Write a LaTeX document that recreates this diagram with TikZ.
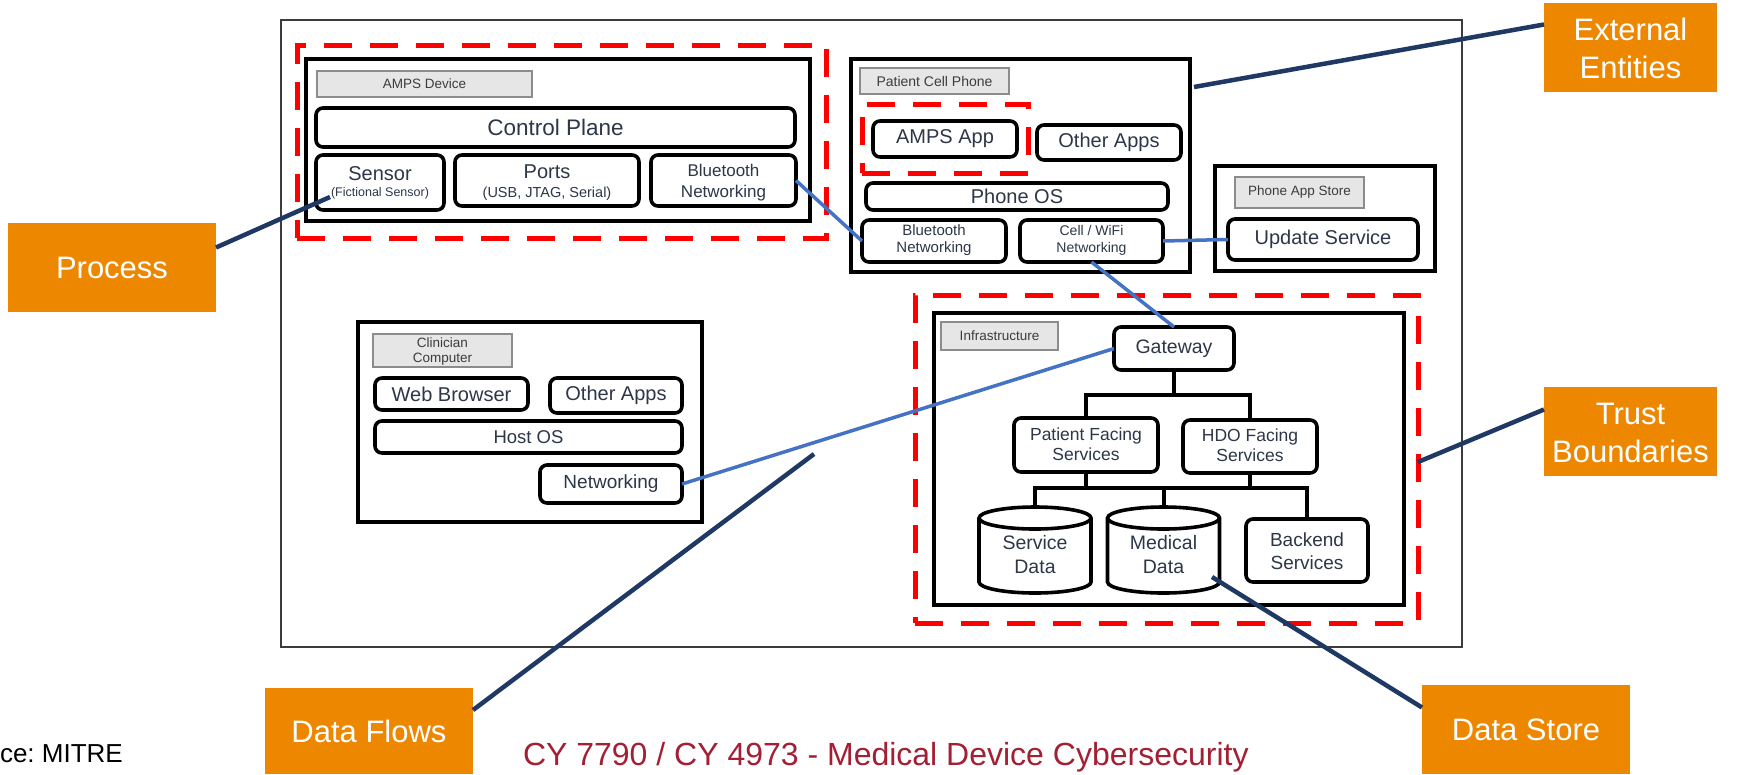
\documentclass[tikz,border=0pt]{standalone}
\usepackage{fontspec}
\setmainfont{Liberation Sans}
\frenchspacing

\definecolor{tbred}{RGB}{255,0,0}
\definecolor{flowblue}{RGB}{68,114,196}
\definecolor{leadnavy}{RGB}{31,56,100}
\definecolor{calloutorange}{RGB}{237,135,0}
\definecolor{comptext}{RGB}{45,55,72}
\definecolor{tagfill}{RGB}{230,230,230}
\definecolor{tagline}{RGB}{140,140,140}
\definecolor{tagtext}{RGB}{60,60,60}
\definecolor{titlered}{RGB}{163,31,52}
\definecolor{framegray}{RGB}{60,60,60}

\newcommand\fsz[2]{\fontsize{#1}{#2}\selectfont}
\newcommand\twoline[2]{\begin{tabular}{@{}c@{}}#1\\#2\end{tabular}}
% lower a text block without changing the size the node sees
\newcommand\drop[2]{\raisebox{-#1}[\height][\depth]{#2}}
% database drum drawn around a named node (radius = half the node width)
\newcommand\drum[1]{\draw[cylline] ([yshift=-11pt]#1.north west) -- ([yshift=11pt]#1.south west)
  arc[start angle=180,end angle=360,x radius=56pt,y radius=11pt]
  -- ([yshift=-11pt]#1.north east)
  arc[start angle=0,end angle=180,x radius=56pt,y radius=11pt]
  arc[start angle=180,end angle=360,x radius=56pt,y radius=11pt];}

\begin{document}
\begin{tikzpicture}[x=1pt,y=-1pt,
  every node/.style={inner sep=0pt, outer sep=0pt},
  frame/.style={draw=framegray, line width=1.6pt},
  container/.style={draw=black, line width=3.8pt},
  tag/.style={draw=tagline, fill=tagfill, line width=1.3pt, text=tagtext},
  comp/.style={draw=black, line width=3.6pt, rounded corners=7pt, text=comptext},
  cylline/.style={draw=black, line width=3.6pt},
  trustline/.style={draw=tbred, line width=5pt, dash pattern=on 28pt off 18pt},
  flow/.style={draw=flowblue, line width=3.5pt},
  callout/.style={fill=calloutorange, text=white, font=\fsz{31}{38}},
  leader/.style={draw=leadnavy, line width=4.5pt},
  tree/.style={draw=black, line width=4pt},
]
\useasboundingbox (0,0) rectangle (1748,774);
\fill[white] (0,0) rectangle (1748,774);

% outer frame of the system
\node[frame, minimum width=1181, minimum height=627] (frame) at (871.5,333.5) {};

% ---- AMPS device ----
\node[trustline, minimum width=529, minimum height=193] (ampsTB) at (561.5,141.5) {};
\node[container, minimum width=504, minimum height=162] (amps) at (558,140) {};
\node[tag, minimum width=215, minimum height=26, font=\fsz{13.5}{16}] (ampsTag) at (424.5,84) {AMPS Device};
\node[comp, minimum width=479, minimum height=39, font=\fsz{22.5}{27}] (ctrl) at (555.5,127.5) {Control Plane};
\node[comp, minimum width=128, minimum height=55] (sensor) at (380,182.5)
  {\fsz{20}{16}\drop{1pt}{\begin{tabular}{@{}c@{}}Sensor\\\fsz{12.5}{15}(Fictional Sensor)\end{tabular}}};
\node[comp, minimum width=184, minimum height=51] (ports) at (547,180.5)
  {\fsz{20}{19}\drop{3pt}{\begin{tabular}{@{}c@{}}Ports\\\fsz{14.5}{17}(USB, JTAG, Serial)\end{tabular}}};
\node[comp, minimum width=145, minimum height=51, font=\fsz{17}{21}] (ampsBT) at (723.5,180.5) {\drop{2pt}{\twoline{Bluetooth}{Networking}}};

% ---- patient cell phone ----
\node[container, minimum width=339, minimum height=213] (phone) at (1020.5,165.5) {};
\node[tag, minimum width=149, minimum height=26, font=\fsz{14}{16}] (phoneTag) at (934.5,81) {Patient Cell Phone};
\node[trustline, minimum width=166, minimum height=69] (appTB) at (945,138.5) {};
\node[comp, minimum width=144, minimum height=36, font=\fsz{20}{24}] (ampsApp) at (945,139) {AMPS App};
\node[comp, minimum width=144, minimum height=35, font=\fsz{20}{24}] (otherApps) at (1109,142.5) {Other Apps};
\node[comp, minimum width=302, minimum height=27, font=\fsz{20}{24}] (phoneOS) at (1017,196.5) {Phone OS};
\node[comp, minimum width=144, minimum height=42, font=\fsz{15}{17}] (phoneBT) at (934,241) {\twoline{Bluetooth}{Networking}};
\node[comp, minimum width=143, minimum height=42, font=\fsz{14}{17}] (cellWifi) at (1091.5,241) {\twoline{Cell / WiFi}{Networking}};

% ---- phone app store ----
\node[container, minimum width=220, minimum height=105] (store) at (1325,218.5) {};
\node[tag, minimum width=129, minimum height=31, font=\fsz{13.5}{16}] (storeTag) at (1299.5,192.5) {Phone App Store};
\node[comp, minimum width=190, minimum height=41, font=\fsz{20}{24}] (update) at (1323,239.5) {Update Service};

% ---- clinician computer ----
\node[container, minimum width=344, minimum height=200] (clin) at (530,422) {};
\node[tag, minimum width=139, minimum height=33, font=\fsz{13.5}{15}] (clinTag) at (442.5,350.5) {\drop{1pt}{\twoline{Clinician}{Computer}}};
\node[comp, minimum width=153, minimum height=32, font=\fsz{20}{24}] (web) at (451.5,394) {Web Browser};
\node[comp, minimum width=132, minimum height=35, font=\fsz{20}{24}] (clinApps) at (616,395.5) {Other Apps};
\node[comp, minimum width=307, minimum height=32, font=\fsz{18.5}{22}] (hostOS) at (528.5,437) {Host OS};
\node[comp, minimum width=142, minimum height=38, font=\fsz{19}{23}] (net) at (611,484) {Networking};

% ---- infrastructure ----
\node[trustline, minimum width=503, minimum height=328] (infTB) at (1166.5,459) {};
\node[container, minimum width=470, minimum height=292] (inf) at (1169,459) {};
\node[tag, minimum width=117, minimum height=28, font=\fsz{13.5}{16}] (infTag) at (999.5,336) {Infrastructure};
\node[comp, minimum width=120, minimum height=43, font=\fsz{19.5}{24}] (gw) at (1174,348.5) {Gateway};
\node[comp, minimum width=144, minimum height=54, font=\fsz{17.5}{20}] (pfs) at (1086,445) {\drop{1pt}{\twoline{Patient Facing}{Services}}};
\node[comp, minimum width=134, minimum height=53, font=\fsz{17.5}{20}] (hdo) at (1250,446.5) {\drop{1pt}{\twoline{HDO Facing}{Services}}};
\node[minimum width=112, minimum height=86, text=comptext, font=\fsz{19.5}{24}] (sd) at (1035,550) {\drop{7pt}{\twoline{Service}{Data}}};
\node[minimum width=112, minimum height=86, text=comptext, font=\fsz{19.5}{24}] (md) at (1163.5,550) {\drop{7pt}{\twoline{Medical}{Data}}};
\node[comp, minimum width=122, minimum height=63, font=\fsz{19}{23}] (be) at (1307,550.5) {\drop{3pt}{\twoline{Backend}{Services}}};
\drum{sd}
\drum{md}

% service tree
\coordinate (tb) at (gw.south |- 0,395);
\coordinate (lb) at (pfs.south |- 0,488);
\draw[tree] (gw.south) -- (tb);
\draw[tree] (pfs.north) |- (tb) -| (hdo.north);
\draw[tree] (pfs.south) -- (lb);
\draw[tree] (hdo.south) -- (hdo.south |- lb);
\draw[tree] (sd.north) |- (lb) -| (be.north);
\draw[tree] (md.north) -- (md.north |- lb);

% data flows
\draw[flow] (ampsBT.east) -- (phoneBT.west);
\draw[flow] (cellWifi.east) -- (update.west);
\draw[flow] (cellWifi.south) -- (gw.north);
\draw[flow] (net.east) -- (gw.west);

% ---- callouts ----
\node[callout, minimum width=208, minimum height=89] (process) at (112,267.5) {Process};
\node[callout, minimum width=173, minimum height=89] (extEnt) at (1630.5,47.5) {\drop{4pt}{\twoline{External}{Entities}}};
\node[callout, minimum width=173, minimum height=89] (trust) at (1630.5,431.5) {\drop{4pt}{\twoline{Trust}{Boundaries}}};
\node[callout, minimum width=208, minimum height=86] (dataFlows) at (369,731) {Data Flows};
\node[callout, minimum width=208, minimum height=89] (dataStore) at (1526,729.5) {Data Store};

\coordinate (procPt) at (330,197);
\coordinate (extPt) at (1194,87);
\coordinate (trustPt) at (1418,462);
\coordinate (flowPt) at (814,454);
\coordinate (storePt) at (1212,577);
\draw[leader] ([yshift=20pt]process.east) -- (procPt);
\draw[leader] ([yshift=23pt]extEnt.west) -- (extPt);
\draw[leader] ([yshift=22pt]trust.west) -- (trustPt);
\draw[leader] ([yshift=21pt]dataFlows.east) -- (flowPt);
\draw[leader] ([yshift=22pt]dataStore.west) -- (storePt);

% footer
\node[anchor=base west, font=\fsz{26}{30}] (src) at (0,762) {ce: MITRE};
\node[anchor=base west, text=titlered, font=\fsz{32}{38}] (title) at (523,765) {CY 7790 / CY 4973 - Medical Device Cybersecurity};
\end{tikzpicture}
\end{document}
